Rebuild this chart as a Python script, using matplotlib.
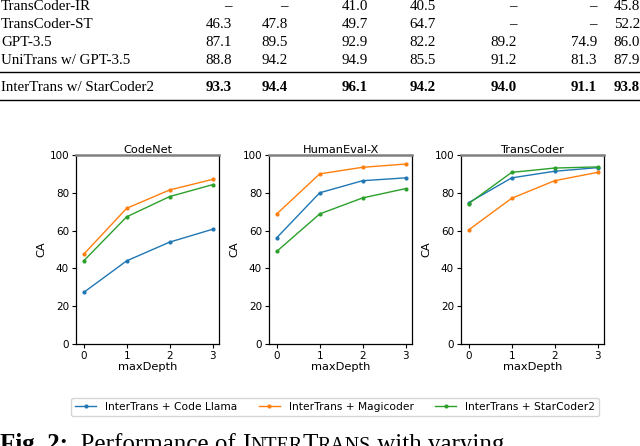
import numpy as np
import matplotlib.pyplot as plt
from matplotlib.lines import Line2D
from matplotlib.text import Annotation

# table rows (top part of the page crop)
row_names = ["TransCoder-IR", "TransCoder-ST", "GPT-3.5",
             "UniTrans w/ GPT-3.5", "InterTrans w/ StarCoder2"]
row_values = [
    [None, None, 41.0, 40.5, None, None, 45.8],
    [46.3, 47.8, 49.7, 64.7, None, None, 52.2],
    [87.1, 89.5, 92.9, 82.2, 89.2, 74.9, 86.0],
    [88.8, 94.2, 94.9, 85.5, 91.2, 81.3, 87.9],
    [93.3, 94.4, 96.1, 94.2, 94.0, 91.1, 93.8],
]

# line charts
depth = [0, 1, 2, 3]
datasets = ["CodeNet", "HumanEval-X", "TransCoder"]
code_llama = [[27.3, 44.0, 53.9, 60.7],
              [56.2, 80.0, 86.4, 87.9],
              [74.8, 87.9, 91.4, 93.3]]
magicoder = [[47.5, 71.8, 81.5, 87.1],
             [68.8, 90.0, 93.5, 95.2],
             [60.4, 77.1, 86.4, 90.8]]
starcoder2 = [[44.0, 67.3, 78.0, 84.3],
              [49.0, 68.8, 77.3, 82.2],
              [74.3, 90.8, 93.1, 93.7]]
series_labels = ["InterTrans + Code Llama", "InterTrans + Magicoder",
                 "InterTrans + StarCoder2"]

W, H = 640, 446
fig = plt.figure(figsize=(W / 100, H / 100), dpi=100)

def fx(px):
    return px / W

def fy(py):
    return 1 - py / H

serif = "Liberation Serif"

# --- table ---
col_right = [232, 288, 368, 436, 517, 597, 640]
row_base = [10, 28, 46, 63.5, 91]
for r, (name, vals) in enumerate(zip(row_names, row_values)):
    bold = r == len(row_names) - 1
    fig.text(fx(1), fy(row_base[r]), name, family=serif, fontsize=10.8,
             va="baseline", ha="left")
    for c, v in enumerate(vals):
        s = "\u2013" if v is None else f"{v:.1f}"
        fig.text(fx(col_right[c]), fy(row_base[r]), s, family=serif,
                 fontsize=10.8, va="baseline", ha="right",
                 weight="bold" if bold else "normal")
for ly in [72, 100]:
    fig.add_artist(Line2D([0, 1], [fy(ly), fy(ly)], color="black", lw=1.0,
                          transform=fig.transFigure))

# --- panels ---
lefts = [76, 269, 461]
for i, name in enumerate(datasets):
    ax = fig.add_axes([fx(lefts[i]), fy(344), fx(143), 189 / H])
    for k, ys in enumerate([code_llama, magicoder, starcoder2]):
        ax.plot(depth, ys[i], color=f"C{k}", lw=1.0, marker="o",
                markersize=2, label=series_labels[k])
    ax.set_ylim(0, 100)
    ax.set_xlim(-0.18, 3.15)
    ax.set_xticks(depth)
    ax.set_yticks(range(0, 101, 20))
    ax.tick_params(labelsize=7.5, length=3, width=0.8, pad=2)
    ax.set_title(name, fontsize=8.2, pad=1.5)
    ax.set_xlabel("maxDepth", fontsize=8.2, labelpad=1)
    ax.set_ylabel("CA", fontsize=8.2, labelpad=2)
    ax.spines["top"].set_color("#808080")
    ax.spines["top"].set_linewidth(1.8)
    for sp in ["left", "bottom", "right"]:
        ax.spines[sp].set_linewidth(0.9)

handles, labels = ax.get_legend_handles_labels()
fig.legend(handles, labels, loc="center", ncol=3, fontsize=7.7,
           bbox_to_anchor=(fx(335), fy(407)), frameon=True,
           borderaxespad=0, handlelength=2.0)

# --- caption (cut off by the crop, small caps built from pieces) ---
cap_y = fy(451)
big, small = 18, 14.4
prev = fig.text(fx(0), cap_y, "Fig. 2:", family=serif, weight="bold",
                fontsize=big, va="baseline")
pieces = [("  Performance of ", big), ("I", big), ("NTER", small),
          ("T", big), ("RANS", small), (" with varying", big)]
for s, size in pieces:
    a = Annotation(s, xy=(1, 0), xycoords=prev, va="bottom", ha="left",
                   family=serif, fontsize=size)
    fig.add_artist(a)
    prev = a

fig.savefig("out.png", dpi=100)
